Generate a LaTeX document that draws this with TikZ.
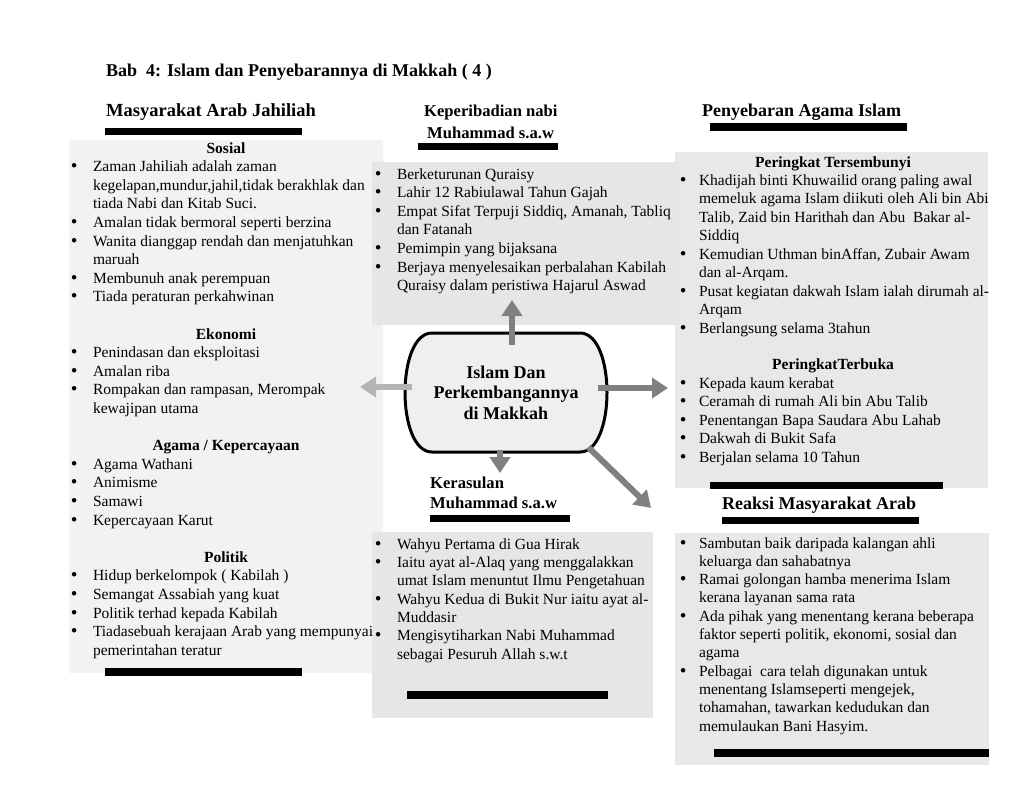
\documentclass[tikz,border=0pt]{standalone}
\usepackage{fontspec}
\setmainfont{Liberation Serif}
\newfontfamily\bulfont{DejaVu Sans}
\usetikzlibrary{arrows.meta,calc}
\definecolor{panelL}{HTML}{F2F2F2}
\definecolor{panelD}{HTML}{E6E6E6}
\definecolor{panelR}{HTML}{E8E8E8}
\definecolor{hubfill}{HTML}{EFEFEF}
\definecolor{arrD}{HTML}{808080}
\definecolor{arrL}{HTML}{B4B4B4}
\newcommand{\bdot}{\hspace*{-1.5pt}{\bulfont\textbullet}}
\newcommand{\bulA}{\makebox[22pt][l]{\bdot}}
\newcommand{\indA}{\hspace*{22pt}}
\newcommand{\bulR}{\makebox[19pt][l]{\bdot}}
\newcommand{\indR}{\hspace*{19pt}}
\tikzset{
  panel/.style={draw=none, inner sep=0pt, outer sep=0pt},
  bar/.style={fill=black},
  body/.style={anchor=north west, inner sep=0pt, outer sep=0pt, align=left},
  head/.style={anchor=base west, inner sep=0pt, font=\bfseries\fontsize{18}{21}\selectfont},
  headm/.style={anchor=base west, inner sep=0pt, font=\bfseries\fontsize{16.6}{20}\selectfont},
  hubtext/.style={inner sep=0pt, minimum width=202pt, minimum height=119pt, align=center, font=\bfseries\fontsize{18}{20.5}\selectfont},
  arr/.style={line width=6pt, -{Triangle[length=16pt,width=20pt]}},
}
\begin{document}
\begin{tikzpicture}[x=1pt,y=-1pt]
\fill[white] (0,0) rectangle (1024,792);
\useasboundingbox (0,0) rectangle (1024,792);

% panels
\node[panel, fill=panelL, minimum width=314pt, minimum height=533pt] (pL) at (226,406.5) {};
\node[panel, fill=panelR, minimum width=313pt, minimum height=336pt] (pRT) at (831.5,320) {};
\node[panel, fill=panelD, minimum width=308pt, minimum height=163pt] (pMT) at (526,243.5) {};
\node[panel, fill=panelD, minimum width=281pt, minimum height=186pt] (pMB) at (512.5,625) {};
\node[panel, fill=panelR, minimum width=314pt, minimum height=232pt] (pRB) at (832,649) {};

% bars
\fill[bar] (105,128) rectangle (302,135);
\fill[bar] (418,143) rectangle (558,150);
\fill[bar] (710,123) rectangle (907,131);
\fill[bar] (710,482) rectangle (943,489);
\fill[bar] (722,517) rectangle (919,524);
\fill[bar] (430,515) rectangle (570,522);
\fill[bar] (407,691) rectangle (608,699);
\fill[bar] (714,749) rectangle (989,757);
\fill[bar] (105,668) rectangle (302,676);

% headings
\node[head] (title) at (106,77) {Bab\ \ 4: Islam dan Penyebarannya di Makkah ( 4 )};
\node[head, font=\bfseries\fontsize{18.5}{21}\selectfont] (hL) at (106,116.7) {Masyarakat Arab Jahiliah};
\node[headm] (hMT1) at (424,116.7) {Keperibadian nabi};
\node[headm] (hMT2) at (427,138.3) {Muhammad s.a.w};
\node[head] (hRT) at (702,116.7) {Penyebaran Agama Islam};
\node[head] (hRB) at (722,509) {Reaksi Masyarakat Arab};
\node[headm] (hMB1) at (430,488) {Kerasulan};
\node[headm] (hMB2) at (430,508) {Muhammad s.a.w};

% left panel text
\node[body, font=\fontsize{15.5}{18.6}\selectfont] (tL) at (71,139.98) {%
\strut\makebox[310pt][c]{\bfseries Sosial}\\
\bulA Zaman Jahiliah adalah zaman\\
\indA kegelapan,mundur,jahil,tidak berakhlak dan\\
\indA tiada Nabi dan Kitab Suci.\\
\bulA Amalan tidak bermoral seperti berzina\\
\bulA Wanita dianggap rendah dan menjatuhkan\\
\indA maruah\\
\bulA Membunuh anak perempuan\\
\bulA Tiada peraturan perkahwinan\\
\mbox{}\\
\makebox[310pt][c]{\bfseries Ekonomi}\\
\bulA Penindasan dan eksploitasi\\
\bulA Amalan riba\\
\bulA Rompakan dan rampasan, Merompak\\
\indA kewajipan utama\\
\mbox{}\\
\makebox[310pt][c]{\bfseries Agama / Kepercayaan}\\
\bulA Agama Wathani\\
\bulA Animisme\\
\bulA Samawi\\
\bulA Kepercayaan Karut\\
\mbox{}\\
\makebox[310pt][c]{\bfseries Politik}\\
\bulA Hidup berkelompok ( Kabilah )\\
\bulA Semangat Assabiah yang kuat\\
\bulA Politik terhad kepada Kabilah\\
\bulA Tiadasebuah kerajaan Arab yang mempunyai\\
\indA pemerintahan teratur};

% middle top text
\node[body, font=\fontsize{15.5}{18.6}\selectfont] (tMT) at (375,165.98) {%
\strut\bulA Berketurunan Quraisy\\
\bulA Lahir 12 Rabiulawal Tahun Gajah\\
\bulA Empat Sifat Terpuji Siddiq, Amanah, Tabliq\\
\indA dan Fatanah\\
\bulA Pemimpin yang bijaksana\\
\bulA Berjaya menyelesaikan perbalahan Kabilah\\
\indA Quraisy dalam peristiwa Hajarul Aswad};

% right top text
\node[body, font=\fontsize{15.5}{18.45}\selectfont] (tRT) at (680,154.1) {%
\strut\makebox[306pt][c]{\bfseries Peringkat Tersembunyi}\\
\bulR Khadijah binti Khuwailid orang paling awal\\
\indR memeluk agama Islam diikuti oleh Ali bin Abi\\
\indR Talib, Zaid bin Harithah dan Abu\ \ Bakar al-\\
\indR Siddiq\\
\bulR Kemudian Uthman binAffan, Zubair Awam\\
\indR dan al-Arqam.\\
\bulR Pusat kegiatan dakwah Islam ialah dirumah al-\\
\indR Arqam\\
\bulR Berlangsung selama 3tahun\\
\mbox{}\\
\makebox[306pt][c]{\bfseries PeringkatTerbuka}\\
\bulR Kepada kaum kerabat\\
\bulR Ceramah di rumah Ali bin Abu Talib\\
\bulR Penentangan Bapa Saudara Abu Lahab\\
\bulR Dakwah di Bukit Safa\\
\bulR Berjalan selama 10 Tahun};

% middle bottom text
\node[body, font=\fontsize{15.5}{18.35}\selectfont] (tMB) at (375,536.2) {%
\strut\bulA Wahyu Pertama di Gua Hirak\\
\bulA Iaitu ayat al-Alaq yang menggalakkan\\
\indA umat Islam menuntut Ilmu Pengetahuan\\
\bulA Wahyu Kedua di Bukit Nur iaitu ayat al-\\
\indA Muddasir\\
\bulA Mengisytiharkan Nabi Muhammad\\
\indA sebagai Pesuruh Allah s.w.t};

% right bottom text
\node[body, font=\fontsize{15.5}{18.3}\selectfont] (tRB) at (680,535.2) {%
\strut\bulR Sambutan baik daripada kalangan ahli\\
\indR keluarga dan sahabatnya\\
\bulR Ramai golongan hamba menerima Islam\\
\indR kerana layanan sama rata\\
\bulR Ada pihak yang menentang kerana beberapa\\
\indR faktor seperti politik, ekonomi, sosial dan\\
\indR agama\\
\bulR Pelbagai\ \ cara telah digunakan untuk\\
\indR menentang Islamseperti mengejek,\\
\indR tohamahan, tawarkan kedudukan dan\\
\indR memulaukan Bani Hasyim.};

% hub shape
\filldraw[fill=hubfill, draw=black, line width=3pt]
  (432,333) -- (580,333) .. controls (616,333) and (616,452) .. (580,452)
  -- (432,452) .. controls (396,452) and (396,333) .. (432,333) -- cycle;
\node[hubtext] (hub) at (506,392.5) {Islam Dan\\Perkembangannya\\di Makkah};

% arrows
\coordinate (tUp) at (512,300);
\coordinate (tLeft) at (360,387);
\coordinate (tRight) at (668,388);
\coordinate (tDown) at (500,473);
\coordinate (tDiag) at (651,508);
\draw[arr, arrD] ($(hub.north)+(6,12)$) -- (tUp);
\draw[arr, arrL] ($(hub.west)+(7,-5.5)$) -- (tLeft);
\draw[arr, arrD] ($(hub.east)+(-9,-4.5)$) -- (tRight);
\draw[arr, arrD] ($(hub.south)+(-6,-2)$) -- (tDown);
\draw[arr, arrD] ($(hub.south east)+(-19,-5)$) -- (tDiag);
\end{tikzpicture}
\end{document}
